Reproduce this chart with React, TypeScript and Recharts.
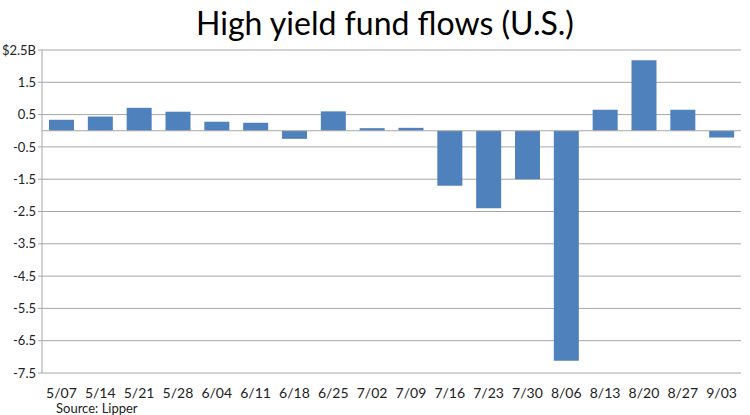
import { BarChart, Bar, XAxis, YAxis, CartesianGrid, ReferenceLine } from "recharts";

const weeks = ["5/07", "5/14", "5/21", "5/28", "6/04", "6/11", "6/18", "6/25", "7/02", "7/09", "7/16", "7/23", "7/30", "8/06", "8/13", "8/20", "8/27", "9/03"];
const flows = [0.34, 0.44, 0.71, 0.59, 0.28, 0.25, -0.25, 0.6, 0.08, 0.09, -1.7, -2.4, -1.5, -7.12, 0.65, 2.18, 0.65, -0.21];
const yTicks = [2.5, 1.5, 0.5, -0.5, -1.5, -2.5, -3.5, -4.5, -5.5, -6.5, -7.5];

const data = weeks.map((week, i) => ({ week, flow: flows[i] }));

const font = "Lato, 'Open Sans', sans-serif";

export default function App() {
  return (
    <div style={{ position: "absolute", left: 0, top: 0, width: 750, height: 415, background: "#fff", fontFamily: font }}>
      <div style={{ position: "absolute", top: 3, left: 0, width: 770, textAlign: "center", fontSize: 32, color: "#000" }}>
        High yield fund flows (U.S.)
      </div>
      <BarChart width={750} height={415} data={data} margin={{ top: 50, right: 9, left: 0, bottom: 12 }}>
        <CartesianGrid vertical={false} stroke="#a6a6a6" strokeWidth={1} />
        <XAxis
          dataKey="week"
          axisLine={false}
          tickLine={false}
          tickSize={0}
          tickMargin={15}
          height={30}
          interval={0}
          tick={{ fill: "#222", fontSize: 14, fontFamily: font }}
        />
        <YAxis
          domain={[-7.5, 2.5]}
          ticks={yTicks}
          width={42}
          interval={0}
          axisLine={{ stroke: "#a6a6a6" }}
          tickLine={{ stroke: "#a6a6a6" }}
          tickSize={4}
          tickMargin={2}
          tickFormatter={(v: number) => (v === 2.5 ? "$2.5B" : String(v))}
          tick={{ fill: "#222", fontSize: 13, fontFamily: font }}
        />
        <ReferenceLine y={0} stroke="#a6a6a6" />
        <Bar dataKey="flow" fill="#4f81bd" barSize={25} isAnimationActive={false} />
      </BarChart>
      <div style={{ position: "absolute", top: 400, left: 56, fontSize: 13, color: "#222" }}>Source: Lipper</div>
    </div>
  );
}
